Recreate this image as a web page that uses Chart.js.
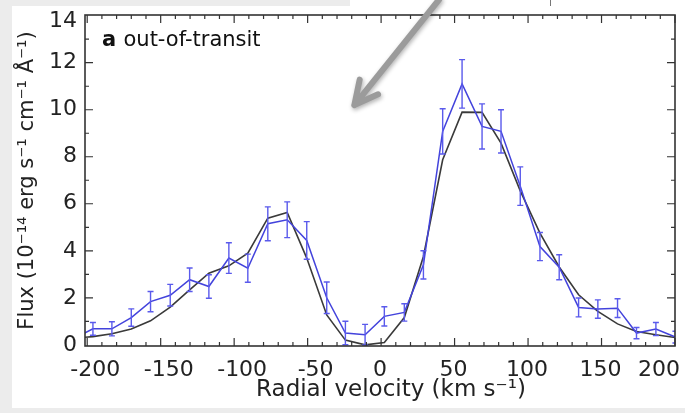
<!DOCTYPE html>
<html lang="en">
<head>
<meta charset="UTF-8">
<title>Out-of-transit line profile</title>
<script src="https://cdn.jsdelivr.net/npm/chart.js"></script>
<style>
  html, body { margin: 0; padding: 0; background: #ececec; }
  #sheet { position: absolute; left: 12px; top: 6px; width: 673px; height: 402px; background: #fff; }
  #sheetTop { position: absolute; left: 350px; top: 0; width: 335px; height: 6px; background: #fff; }
  #stub { position: absolute; left: 550px; top: 0; width: 1px; height: 6px; background: #777; }
  #wrap { position: absolute; left: 0; top: 0; width: 685px; height: 413px; }
</style>
</head>
<body>
<div id="sheet"></div>
<div id="sheetTop"></div>
<div id="stub"></div>
<div id="wrap"><canvas id="fluxChart" width="685" height="413"></canvas></div>

<script>
// radial velocity bins (km/s) and fluxes (1e-14 erg/s/cm2/A)
var velocity = [-209.5, -196.1, -183.2, -170.0, -156.9, -143.5, -130.3, -117.2, -103.6, -90.7,
                -77.1, -63.9, -50.6, -37.0, -24.3, -10.9, 2.2, 15.8, 28.8, 41.9,
                55.1, 68.7, 81.6, 94.7, 108.1, 121.2, 134.4, 147.5, 160.9, 173.8, 187.0, 200.3];
var observed = [0.25, 0.68, 0.68, 1.16, 1.84, 2.11, 2.77, 2.48, 3.69, 3.26,
                5.15, 5.32, 4.44, 2.0, 0.5, 0.43, 1.21, 1.38, 3.40, 9.08,
                11.1, 9.29, 9.08, 6.75, 4.18, 3.30, 1.59, 1.52, 1.56, 0.50, 0.67, 0.33];
var observedErr = [0.25, 0.27, 0.3, 0.37, 0.43, 0.46, 0.5, 0.5, 0.65, 0.6,
                   0.72, 0.76, 0.8, 0.67, 0.5, 0.44, 0.41, 0.37, 0.6, 0.96,
                   1.03, 0.96, 0.92, 0.82, 0.6, 0.53, 0.4, 0.39, 0.4, 0.24, 0.28, 0.25];
var model = [0.28, 0.35, 0.47, 0.67, 1.02, 1.60, 2.34, 3.05, 3.36, 3.90,
             5.39, 5.63, 3.69, 1.27, 0.2, 0.0, 0.1, 1.16, 3.76, 7.87,
             9.90, 9.89, 8.58, 6.55, 4.75, 3.31, 2.13, 1.42, 0.89, 0.57, 0.43, 0.31];

var xTicks = [-200, -150, -100, -50, 0, 50, 100, 150, 200];
var yTicks = [0, 2, 4, 6, 8, 10, 12, 14];

var xTitle = 'Radial velocity (km s\u207B\u00B9)';
var yTitle = 'Flux (10\u207B\u00B9\u2074 erg s\u207B\u00B9 cm\u207B\u00B9 \u00C5\u207B\u00B9)';
var panelLabel = 'out-of-transit';
// arrow overlay, in data units: tail then tip
var arrowFrom = [39.6, 14.7];
var arrowTo = [-18.2, 10.2];

Chart.defaults.font.family = '"DejaVu Sans", sans-serif';
Chart.defaults.color = '#222';

function pts(vals) {
    return velocity.map(function (v, i) { return { x: v, y: vals[i] }; });
}

// error bars, tick marks, labels, frame, panel label and arrow
var extras = {
    id: 'extras',
    afterDatasetsDraw: function (chart) {
        var c = chart.ctx, xs = chart.scales.x, ys = chart.scales.y, a = chart.chartArea;
        c.save();
        c.beginPath();
        c.rect(a.left, a.top, a.right - a.left, a.bottom - a.top);
        c.clip();
        c.strokeStyle = '#5a5aec';
        c.lineWidth = 1.4;
        for (var i = 0; i < velocity.length; i++) {
            var px = xs.getPixelForValue(velocity[i]);
            var y1 = ys.getPixelForValue(observed[i] - observedErr[i]);
            var y2 = ys.getPixelForValue(observed[i] + observedErr[i]);
            c.beginPath();
            c.moveTo(px, y1); c.lineTo(px, y2);
            c.moveTo(px - 3, y1); c.lineTo(px + 3, y1);
            c.moveTo(px - 3, y2); c.lineTo(px + 3, y2);
            c.stroke();
        }
        c.restore();
    },
    afterDraw: function (chart) {
        var c = chart.ctx, xs = chart.scales.x, ys = chart.scales.y, a = chart.chartArea;
        c.save();
        c.strokeStyle = '#333';
        c.lineWidth = 1.2;
        c.beginPath();
        var v, p, major;
        for (v = -200; v <= 200; v += 10) {
            p = xs.getPixelForValue(v);
            major = xTicks.indexOf(v) >= 0 ? 8 : 4;
            c.moveTo(p, a.bottom); c.lineTo(p, a.bottom - major);
            c.moveTo(p, a.top); c.lineTo(p, a.top + major);
        }
        for (v = 1; v < 14; v += 1) {
            p = ys.getPixelForValue(v);
            major = yTicks.indexOf(v) >= 0 ? 8 : 4;
            c.moveTo(a.left, p); c.lineTo(a.left + major, p);
            c.moveTo(a.right, p); c.lineTo(a.right - major, p);
        }
        c.stroke();
        c.lineWidth = 1.6;
        c.strokeRect(a.left, a.top, a.right - a.left, a.bottom - a.top);

        // tick labels, nudged the way the original figure sets them
        c.fillStyle = '#222';
        c.font = '22px "DejaVu Sans"';
        c.textBaseline = 'middle';
        xTicks.forEach(function (t, i) {
            var x = xs.getPixelForValue(t);
            if (i === xTicks.length - 1) { c.textAlign = 'right'; x = a.right + 5; }
            else { c.textAlign = 'center'; x += t < 0 ? 8 : -1; }
            c.fillText(String(t), x, a.bottom + 24);
        });
        c.textAlign = 'right';
        yTicks.forEach(function (t, i) {
            var y = ys.getPixelForValue(t);
            if (i === yTicks.length - 1) y += 6;
            c.fillText(String(t), a.left - 8, y);
        });

        // x axis title
        c.textAlign = 'center';
        c.font = '23px "DejaVu Sans"';
        c.fillText(xTitle, (a.left + a.right) / 2 + 11, 390);

        // panel label
        c.fillStyle = '#111';
        c.textAlign = 'left';
        c.textBaseline = 'alphabetic';
        c.font = 'bold 21px "DejaVu Sans"';
        var lx = a.left + 17, ly = a.top + 31;
        c.fillText('a', lx, ly);
        var w = c.measureText('a ').width;
        c.font = '21px "DejaVu Sans"';
        c.fillText(panelLabel, lx + w, ly);

        // grey arrow
        var tx = xs.getPixelForValue(arrowFrom[0]), ty = ys.getPixelForValue(arrowFrom[1]);
        var hx = xs.getPixelForValue(arrowTo[0]), hy = ys.getPixelForValue(arrowTo[1]);
        var ang = Math.atan2(ty - hy, tx - hx);
        c.strokeStyle = '#9b9b9b';
        c.lineWidth = 6;
        c.lineCap = 'round';
        c.lineJoin = 'round';
        c.shadowColor = 'rgba(0,0,0,0.3)';
        c.shadowBlur = 4;
        c.shadowOffsetX = 1;
        c.shadowOffsetY = 2;
        c.beginPath();
        c.moveTo(tx, ty); c.lineTo(hx, hy);
        c.moveTo(hx + 26 * Math.cos(ang - 0.47), hy + 26 * Math.sin(ang - 0.47));
        c.lineTo(hx, hy);
        c.lineTo(hx + 26 * Math.cos(ang + 0.47), hy + 26 * Math.sin(ang + 0.47));
        c.stroke();
        c.restore();
    }
};

var ctx = document.getElementById('fluxChart').getContext('2d');
var fluxChart = new Chart(ctx, {
    type: 'line',
    data: {
        datasets: [{
            label: 'Observed',
            data: pts(observed),
            borderColor: '#4343dc',
            borderWidth: 1.5,
            pointRadius: 0,
            tension: 0
        }, {
            label: 'Model',
            data: pts(model),
            borderColor: '#3a3a3a',
            borderWidth: 1.6,
            pointRadius: 0,
            tension: 0
        }]
    },
    options: {
        responsive: false,
        animation: false,
        layout: { padding: { top: 15, right: 10, left: 0, bottom: 0 } },
        plugins: { legend: { display: false }, tooltip: { enabled: false } },
        scales: {
            x: {
                type: 'linear',
                min: -201.5,
                max: 200,
                afterBuildTicks: function (s) { s.ticks = xTicks.map(function (v) { return { value: v }; }); },
                afterFit: function (s) { s.height = 67; s.paddingLeft = 0; s.paddingRight = 0; },
                grid: { display: false, drawTicks: false },
                border: { display: false },
                ticks: { display: false }
            },
            y: {
                min: -0.05,
                max: 14.03,
                afterBuildTicks: function (s) { s.ticks = yTicks.map(function (v) { return { value: v }; }); },
                afterFit: function (s) { s.width = 85; s.paddingTop = 0; s.paddingBottom = 0; },
                grid: { display: false, drawTicks: false },
                border: { display: false },
                ticks: { display: false },
                title: { display: true, text: yTitle, font: { size: 21 }, padding: { top: 15, bottom: 0 } }
            }
        }
    },
    plugins: [extras]
});
</script>
</body>
</html>
